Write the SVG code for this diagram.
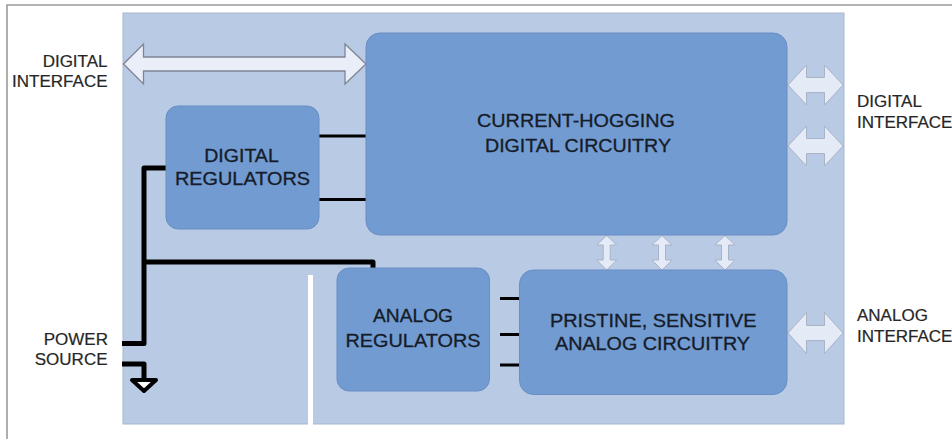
<svg xmlns="http://www.w3.org/2000/svg" width="952" height="439" viewBox="0 0 952 439">
<style>
.frame{fill:none;stroke:#9a9a9a;stroke-width:1.6}
.chip{fill:#b8cae4;stroke:#a7b7cf;stroke-width:1}
.box{fill:#729bd1;stroke:#6a8ec4;stroke-width:1}
.blabel{font-family:"Liberation Sans",Arial,sans-serif;font-size:17.5px;fill:#161c2a;stroke:#161c2a;stroke-width:0.3;text-anchor:middle}
.slabel{font-family:"Liberation Sans",Arial,sans-serif;font-size:17px;fill:#262626;stroke:#262626;stroke-width:0.2}
.wire{fill:none;stroke:#000;stroke-width:5;stroke-linejoin:round}
.stub{fill:none;stroke:#000;stroke-width:3}
.bigarrow{fill:#e9eef8;stroke:#7d8594;stroke-width:1.3}
.sarrow{fill:#e4eaf6;stroke:#aab4c6;stroke-width:1}
</style>
<path class="frame" d="M7,439 V5 H952"/>
<rect class="chip" x="123" y="13" width="721" height="411"/>
<line x1="310.5" y1="275" x2="310.5" y2="427" stroke="#ffffff" stroke-width="5"/>

<g id="connectors">
<path class="wire" d="M122,343.5 H144 V168 H166"/>
<path class="wire" d="M144,262 H373 V268"/>
<path class="wire" d="M122,364 H144 V379"/>
<polygon points="132,380 156,380 144,391" fill="#ffffff" stroke="#000" stroke-width="4" stroke-linejoin="round"/>
<line class="stub" x1="319" y1="136" x2="366" y2="136"/>
<line class="stub" x1="319" y1="199.5" x2="366" y2="199.5"/>
<line class="stub" x1="500" y1="298.5" x2="520" y2="298.5"/>
<line class="stub" x1="500" y1="334.5" x2="520" y2="334.5"/>
<line class="stub" x1="500" y1="365" x2="520" y2="365"/>
<polygon class="bigarrow" points="123.5,64 143.5,44 143.5,57 345,57 345,44 366,64 345,84 345,71 143.5,71 143.5,84"/>
<polygon class="sarrow" points="788,85 806.5,65 806.5,77.5 824.5,77.5 824.5,65 843,85 824.5,105 824.5,92.5 806.5,92.5 806.5,105"/>
<polygon class="sarrow" points="788,146 806.5,126 806.5,138.5 824.5,138.5 824.5,126 843,146 824.5,166 824.5,153.5 806.5,153.5 806.5,166"/>
<polygon class="sarrow" points="788,333 806.5,312.5 806.5,325.5 824.5,325.5 824.5,312.5 843,333 824.5,353.5 824.5,340.5 806.5,340.5 806.5,353.5"/>
<polygon class="sarrow" points="606.7,235.5 616.7,245 610.2,245 610.2,260 616.7,260 606.7,270 596.7,260 603.2,260 603.2,245 596.7,245"/>
<polygon class="sarrow" points="662,235.5 672,245 665.5,245 665.5,260 672,260 662,270 652,260 658.5,260 658.5,245 652,245"/>
<polygon class="sarrow" points="725,235.5 735,245 728.5,245 728.5,260 735,260 725,270 715,260 721.5,260 721.5,245 715,245"/>
</g>

<g id="digital-circuitry">
<rect class="box" x="366" y="33" width="421" height="202" rx="14"/>
<text class="blabel" x="576" y="127.3" textLength="198" lengthAdjust="spacingAndGlyphs">CURRENT-HOGGING</text>
<text class="blabel" x="578" y="152.3" textLength="186" lengthAdjust="spacingAndGlyphs">DIGITAL CIRCUITRY</text>
</g>
<g id="digital-regulators">
<rect class="box" x="166" y="106" width="153" height="123" rx="12"/>
<text class="blabel" x="241.5" y="162.3" textLength="74.5" lengthAdjust="spacingAndGlyphs">DIGITAL</text>
<text class="blabel" x="242.5" y="185" textLength="135" lengthAdjust="spacingAndGlyphs">REGULATORS</text>
</g>
<g id="analog-regulators">
<rect class="box" x="337" y="268" width="152.5" height="123" rx="12"/>
<text class="blabel" x="413" y="321.7" textLength="80" lengthAdjust="spacingAndGlyphs">ANALOG</text>
<text class="blabel" x="413" y="346.7" textLength="135" lengthAdjust="spacingAndGlyphs">REGULATORS</text>
</g>
<g id="analog-circuitry">
<rect class="box" x="519.5" y="270" width="267.5" height="124.5" rx="14"/>
<text class="blabel" x="653.3" y="327.3" textLength="206.7" lengthAdjust="spacingAndGlyphs">PRISTINE, SENSITIVE</text>
<text class="blabel" x="652.5" y="350" textLength="195" lengthAdjust="spacingAndGlyphs">ANALOG CIRCUITRY</text>
</g>

<g id="label-digital-interface-left">
<text class="slabel" x="107.5" y="66.7" text-anchor="end">DIGITAL</text>
<text class="slabel" x="107.5" y="87.3" text-anchor="end">INTERFACE</text>
</g>
<g id="label-digital-interface-right">
<text class="slabel" x="857" y="107.3">DIGITAL</text>
<text class="slabel" x="857" y="127.7">INTERFACE</text>
</g>
<g id="label-analog-interface">
<text class="slabel" x="857" y="320.7">ANALOG</text>
<text class="slabel" x="857" y="341.7">INTERFACE</text>
</g>
<g id="label-power-source">
<text class="slabel" x="108" y="345" text-anchor="end">POWER</text>
<text class="slabel" x="107.5" y="365" text-anchor="end">SOURCE</text>
</g>
</svg>
